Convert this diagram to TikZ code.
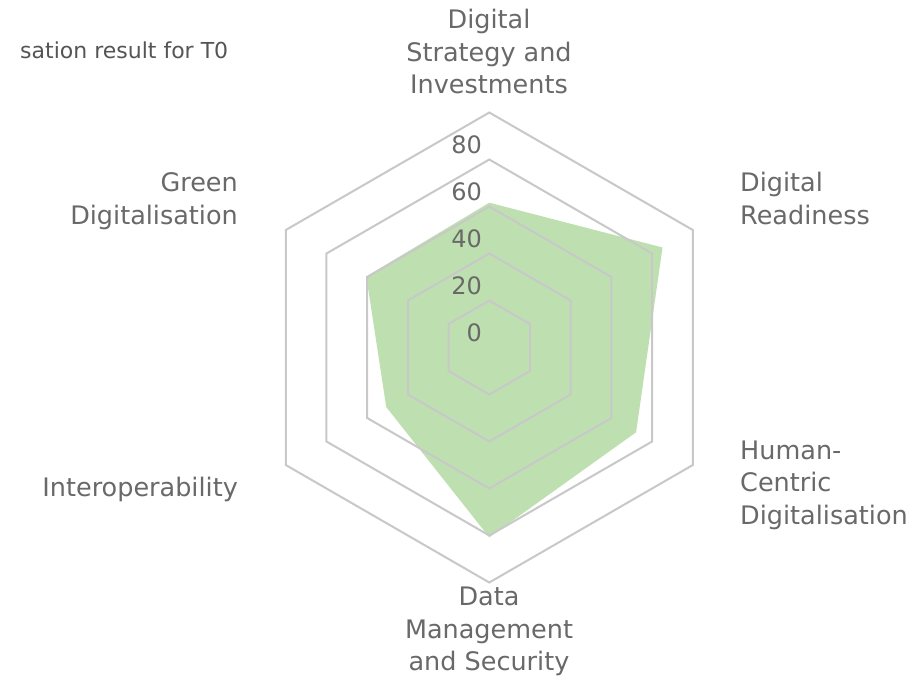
\documentclass[tikz,border=0pt]{standalone}
\usepackage{fontspec}
\setmainfont{DejaVu Sans}
\definecolor{gridc}{RGB}{200,200,200}
\definecolor{fillc}{RGB}{190,224,176}
\definecolor{labc}{RGB}{105,105,105}
\definecolor{titc}{RGB}{85,85,85}
\tikzset{
  gridline/.style={draw=gridc, line width=2pt, line join=miter},
  axislabel/.style={text=labc, inner sep=0pt, font=\fontsize{25.5}{32.5}\selectfont},
  ticklabel/.style={text=labc, inner sep=0pt, anchor=base east, font=\fontsize{24}{28}\selectfont},
}
\begin{document}
\begin{tikzpicture}[x=1pt,y=-1pt]
\useasboundingbox (0,0) rectangle (911,682);
\fill[white] (0,0) rectangle (911,682);
\coordinate (c) at (489.3,347.5);
% data area
\fill[fillc] ([shift={(-90:144.8)}]c) -- ([shift={(-30:200)}]c) -- ([shift={(30:169.5)}]c)
  -- ([shift={(90:189.8)}]c) -- ([shift={(150:119)}]c) -- ([shift={(210:142)}]c) -- cycle;
% grid
\foreach \r in {47,94,141,188,235}{
  \draw[gridline] ([shift={(-90:\r)}]c) -- ([shift={(-30:\r)}]c) -- ([shift={(30:\r)}]c)
    -- ([shift={(90:\r)}]c) -- ([shift={(150:\r)}]c) -- ([shift={(210:\r)}]c) -- cycle;
}
% tick labels
\node[ticklabel] (t0) at (482,341.5) {0};
\node[ticklabel] (t20) at (482,294.5) {20};
\node[ticklabel] (t40) at (482,247.5) {40};
\node[ticklabel] (t60) at (482,200.5) {60};
\node[ticklabel] (t80) at (482,153.5) {80};
% axis labels (anchor base = baseline of last line)
\node[axislabel, anchor=base, align=center] (dsi) at (489,94) {Digital\\Strategy and\\Investments};
\node[axislabel, anchor=base west, align=left] (dr) at (740,224) {Digital\\Readiness};
\node[axislabel, anchor=base west, align=left] (hcd) at (740,524.3) {Human-\\Centric\\Digitalisation};
\node[axislabel, anchor=base, align=center] (dms) at (489,670.7) {Data\\Management\\and Security};
\node[axislabel, anchor=base east] (io) at (238,496.7) {Interoperability};
\node[axislabel, anchor=base east, align=right] (gd) at (238,224) {Green\\Digitalisation};
% title
\node[text=titc, inner sep=0pt, anchor=base west, font=\fontsize{22}{26}\selectfont] (title) at (20,58.3) {sation result for T0};
\end{tikzpicture}
\end{document}
